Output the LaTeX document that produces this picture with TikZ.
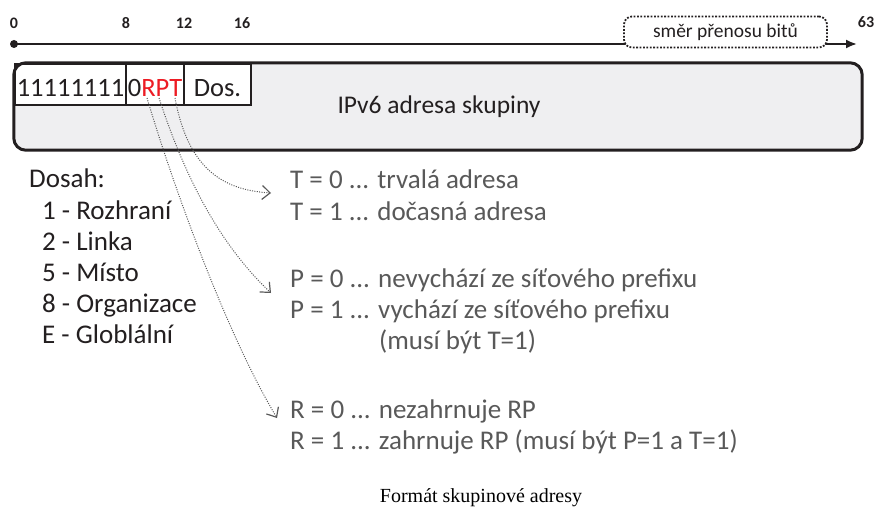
\documentclass[tikz,border=0pt]{standalone}
\usepackage{fontspec}
\setmainfont{Carlito}
\newfontfamily\capfont{Liberation Serif}
\usetikzlibrary{arrows.meta}
\definecolor{ink}{HTML}{231F20}
\definecolor{note}{HTML}{595959}
\definecolor{fieldgray}{HTML}{EFEFF1}
\definecolor{flagred}{HTML}{ED1C24}
\begin{document}
\begin{tikzpicture}[x=1pt,y=-1pt,
  bitlabel/.style={font=\fontsize{16}{16}\selectfont\bfseries, text=ink, inner sep=0pt},
  field/.style={draw=ink, line width=2pt, fill=white, minimum height=41pt,
    inner sep=0pt, anchor=north west, font=\fontsize{26.5}{26.5}\selectfont, text=ink,
    text height=24pt, text depth=0pt},
  legend/.style={font=\fontsize{27}{27}\selectfont, text=ink, anchor=base west, inner sep=0pt},
  meaning/.style={font=\fontsize{27}{27}\selectfont, text=note, anchor=base west, inner sep=0pt},
  pointer/.style={note, line width=1pt, dash pattern=on 1pt off 1.4pt,
    -{Straight Barb[length=8pt,width=14pt,line width=1.2pt]}}
]
\useasboundingbox (0,0) rectangle (874,516);

% bit axis
\node[circle, fill=ink, inner sep=0pt, minimum size=8pt] (origin) at (14,44) {};
\coordinate (axend) at (857,44);
\draw[ink, line width=2pt, -{Latex[length=11pt,width=9pt]}] (origin.center) -- (axend);
\node[bitlabel] (b0) at (14,23) {0};
\node[bitlabel] (b8) at (126,23) {8};
\node[bitlabel] (b12) at (184,23) {12};
\node[bitlabel] (b16) at (242,23) {16};
\node[bitlabel] (b63) at (866,22) {63};
\node[draw=ink, line width=1.8pt, dash pattern=on 1.8pt off 1.6pt, rounded corners=8pt,
  fill=white, minimum width=203pt, minimum height=31pt, inner sep=0pt,
  font=\fontsize{19.5}{19.5}\selectfont, text=ink] (dir) at (725.5,32) {směr přenosu bitů};

% address fields
\node[fill=fieldgray, rounded corners=12pt, minimum width=848pt, minimum height=87pt,
  inner sep=0pt] (group) at (438,106.5) {};
\node[field, minimum width=111pt] (prefix) at (14,63) {11111111};
\node[field, minimum width=58pt] (flags) at (125,63) {0\textcolor{flagred}{RPT}};
\node[field, minimum width=67pt] (scope) at (183,63) {Dos.};
\draw[ink, line width=3pt, rounded corners=12pt] (group.north west) rectangle (group.south east);
\node[font=\fontsize{25.5}{25.5}\selectfont, text=ink, inner sep=0pt] (groupid) at (439,107) {IPv6 adresa skupiny};

% scope values
\node[legend] (dosah) at (29,187) {Dosah:};
\node[legend] (s1) at (42,219) {1 - Rozhraní};
\node[legend] (s2) at (42,250) {2 - Linka};
\node[legend] (s5) at (42,281) {5 - Místo};
\node[legend] (s8) at (42,312) {8 - Organizace};
\node[legend] (sE) at (42,343) {E - Globlální};

% flag meanings
\node[meaning] (t0) at (290,188) {T = 0 ... trvalá adresa};
\node[meaning] (t1) at (290,220) {T = 1 ... dočasná adresa};
\node[meaning] (p0) at (290,287) {P = 0 ... nevychází ze síťového prefixu};
\node[meaning] (p1) at (290,318) {P = 1 ... vychází ze síťového prefixu};
\node[meaning] (p1note) at (379,349) {(musí být T=1)};
\node[meaning] (r0) at (290,418) {R = 0 ... nezahrnuje RP};
\node[meaning] (r1) at (290,449) {R = 1 ... zahrnuje RP (musí být P=1 a T=1)};

% flag pointers
\coordinate (bitR) at (147,98);
\coordinate (bitP) at (159,98);
\coordinate (bitT) at (175,98);
\coordinate (tipT) at (271,193);
\coordinate (tipP) at (271,293);
\coordinate (tipR) at (277,418);
\draw[pointer] (bitT) .. controls (188,168) and (222,190) .. (tipT);
\draw[pointer] (bitP) .. controls (182,168) and (215,240) .. (tipP);
\draw[pointer] (bitR) .. controls (177,198) and (229,338) .. (tipR);

\node[font=\capfont\fontsize{20}{20}\selectfont, text=black, inner sep=0pt] (caption) at (481,498) {Formát skupinové adresy};
\end{tikzpicture}
\end{document}
